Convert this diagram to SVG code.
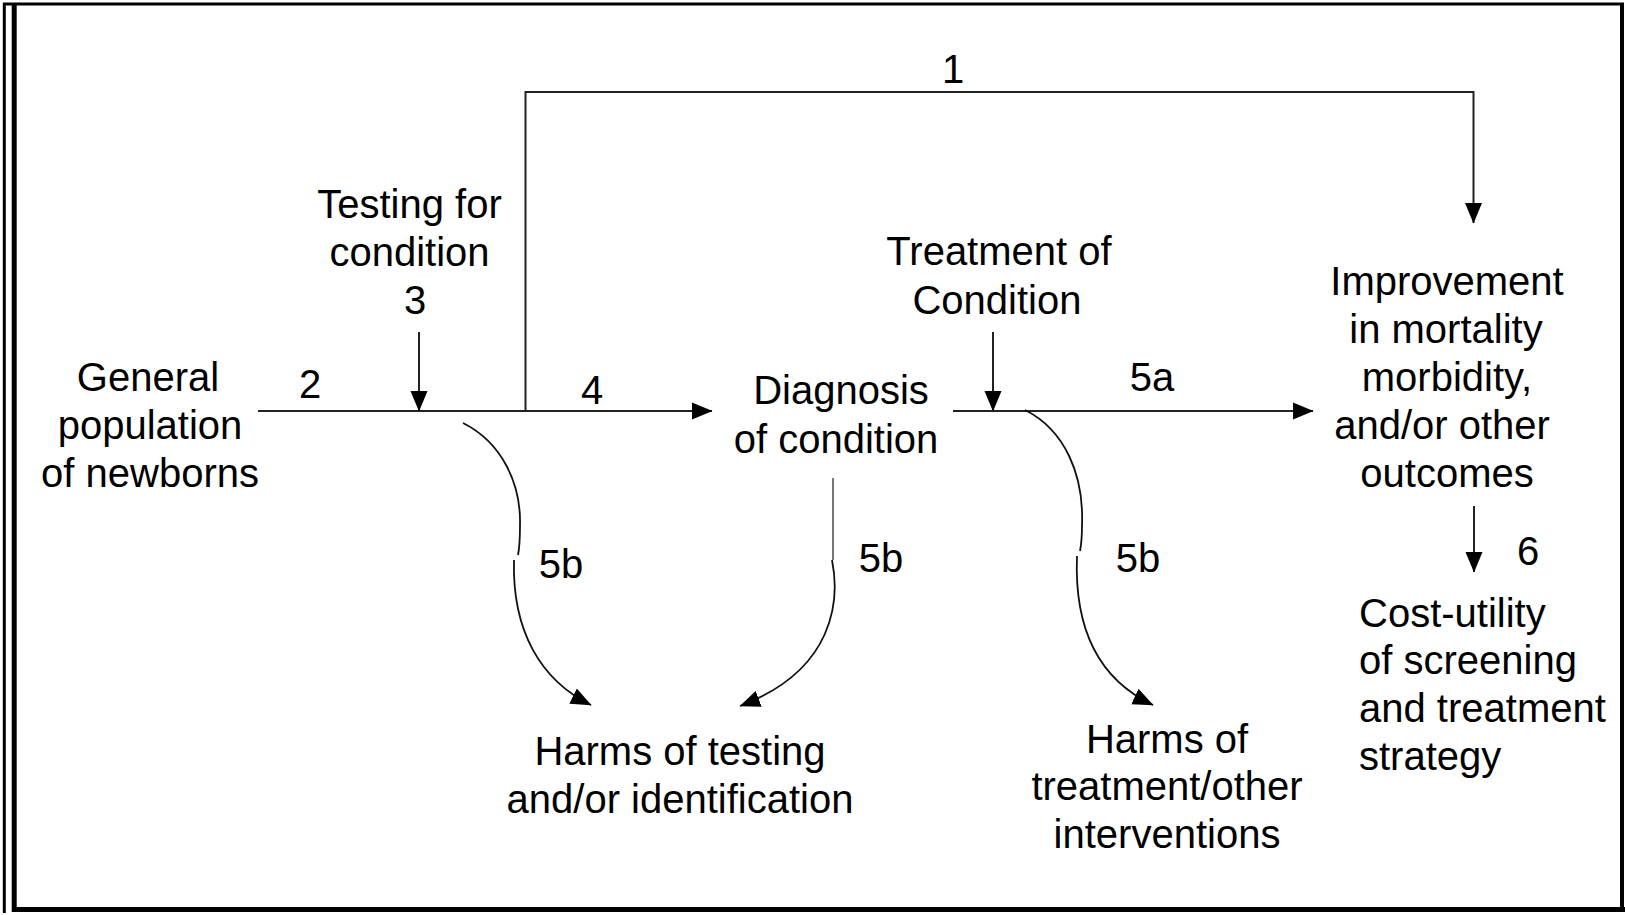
<svg xmlns="http://www.w3.org/2000/svg" width="1625" height="915" viewBox="0 0 1625 915">
  <style>
    .t { font-family: "Liberation Sans", Arial, sans-serif; font-size: 40px; fill: #000; }
    .m { text-anchor: middle; }
    .ln { fill: none; stroke: #222; stroke-width: 2; }
    .cv { fill: none; stroke: #111; stroke-width: 1.8; }
    .fr { stroke: #000; fill: none; }
  </style>
  <defs>
    <marker id="ah" markerUnits="userSpaceOnUse" markerWidth="21" markerHeight="18" viewBox="0 0 21 18" refX="20" refY="9" orient="auto">
      <path d="M0,0.5 L20.5,9 L0,17.5 z" fill="#000"/>
    </marker>
  </defs>
  <rect width="1625" height="915" fill="#fff"/>

  <g id="frame">
    <line class="fr" x1="3" y1="4" x2="1624" y2="4" stroke-width="3"/>
    <line class="fr" x1="1622" y1="3" x2="1622" y2="909" stroke-width="4"/>
    <line class="fr" x1="12" y1="909.5" x2="1625" y2="909.5" stroke-width="5"/>
    <line class="fr" x1="4.3" y1="3" x2="4.3" y2="913" stroke-width="3"/>
    <line class="fr" x1="14.2" y1="3" x2="14.2" y2="912" stroke-width="5"/>
  </g>

  <g id="connectors">
    <path class="ln" d="M525.5,411 L525.5,92 L1473.5,92 L1473.5,223" marker-end="url(#ah)"/>
    <path class="ln" d="M258,411 L712,411" marker-end="url(#ah)"/>
    <path class="ln" d="M419,332 L419,411" marker-end="url(#ah)"/>
    <path class="ln" d="M953,411 L1313,411" marker-end="url(#ah)"/>
    <path class="ln" d="M993,332 L993,411" marker-end="url(#ah)"/>
    <path class="ln" d="M1474,506 L1474,572" marker-end="url(#ah)"/>
    <path class="cv" d="M463,423 C503,443 521,485 520,525 C520,540 519,550 518,555"/>
    <path class="cv" d="M514,560 C512,630 540,680 591,705" marker-end="url(#ah)"/>
    <path d="M833,478 L833,560" fill="none" stroke="#777" stroke-width="2"/>
    <path class="cv" d="M832,560 C840,600 835,670 740,706" marker-end="url(#ah)"/>
    <path class="cv" d="M1025,410 C1065,430 1084,475 1082,525 C1082,538 1081,546 1080,551"/>
    <path class="cv" d="M1077,556 C1074,630 1100,680 1153,705" marker-end="url(#ah)"/>
  </g>

  <g id="label-1"><text class="t m" x="953" y="83">1</text></g>
  <g id="label-2"><text class="t m" x="310" y="398">2</text></g>
  <g id="label-4"><text class="t m" x="592" y="404">4</text></g>
  <g id="label-5a"><text class="t m" x="1152" y="391">5a</text></g>
  <g id="label-5b-1"><text class="t m" x="561" y="578">5b</text></g>
  <g id="label-5b-2"><text class="t m" x="881" y="572">5b</text></g>
  <g id="label-5b-3"><text class="t m" x="1138" y="572">5b</text></g>
  <g id="label-6"><text class="t m" x="1528" y="565">6</text></g>

  <g id="node-population">
    <text class="t m" x="148" y="391">General</text>
    <text class="t m" x="150" y="439">population</text>
    <text class="t m" x="150" y="487">of newborns</text>
  </g>
  <g id="node-testing">
    <text class="t m" x="409.5" y="218">Testing for</text>
    <text class="t m" x="409.5" y="266">condition</text>
    <text class="t m" x="415" y="314">3</text>
  </g>
  <g id="node-diagnosis">
    <text class="t m" x="841" y="404">Diagnosis</text>
    <text class="t m" x="836" y="453">of condition</text>
  </g>
  <g id="node-treatment">
    <text class="t m" x="999" y="265">Treatment of</text>
    <text class="t m" x="997" y="314">Condition</text>
  </g>
  <g id="node-improvement">
    <text class="t m" x="1447" y="295">Improvement</text>
    <text class="t m" x="1446" y="343">in mortality</text>
    <text class="t m" x="1447" y="391">morbidity,</text>
    <text class="t m" x="1442" y="439">and/or other</text>
    <text class="t m" x="1447" y="487">outcomes</text>
  </g>
  <g id="node-cost">
    <text class="t" x="1359" y="627">Cost-utility</text>
    <text class="t" x="1359" y="674">of screening</text>
    <text class="t" x="1359" y="722">and treatment</text>
    <text class="t" x="1359" y="770">strategy</text>
  </g>
  <g id="node-harms-testing">
    <text class="t m" x="680" y="765">Harms of testing</text>
    <text class="t m" x="680" y="813">and/or identification</text>
  </g>
  <g id="node-harms-treatment">
    <text class="t m" x="1167" y="753">Harms of</text>
    <text class="t m" x="1167" y="800">treatment/other</text>
    <text class="t m" x="1167" y="848">interventions</text>
  </g>
</svg>
